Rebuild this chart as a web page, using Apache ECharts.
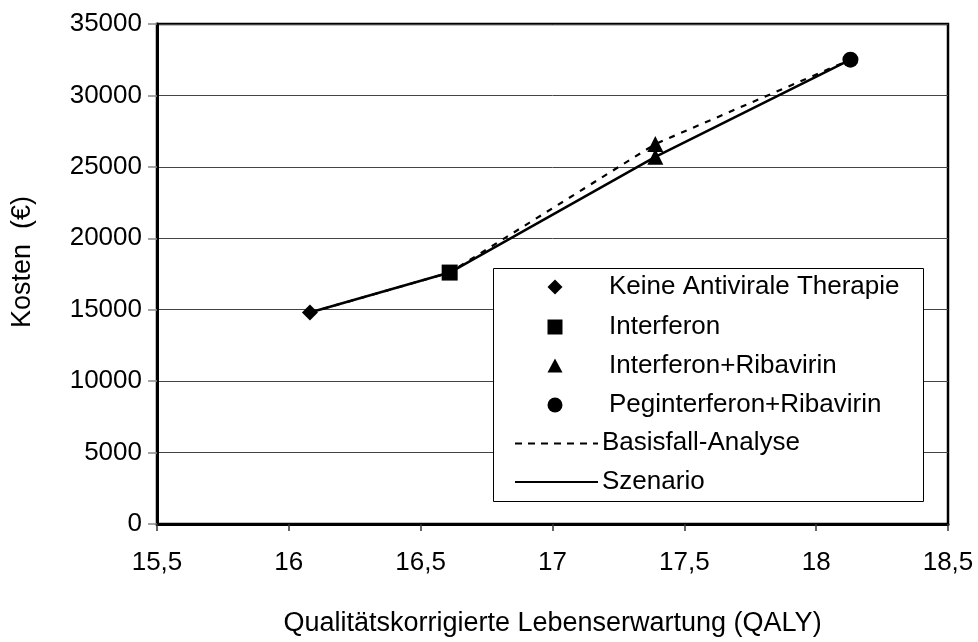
<!DOCTYPE html>
<html><head><meta charset="utf-8">
<script src="https://cdn.jsdelivr.net/npm/echarts@6/dist/echarts.min.js"></script>
<style>html,body{margin:0;padding:0;background:#fff}#c{width:978px;height:642px}</style>
</head><body><div id="c"></div>
<script>
// Data
const qaly = [16.08, 16.61, 17.39, 18.13];
const kostenBasis = [14800, 17600, 26600, 32500];
const kostenSzenario = [14800, 17600, 25700, 32500];
const therapien = ['Keine Antivirale Therapie', 'Interferon', 'Interferon+Ribavirin', 'Peginterferon+Ribavirin'];
const symbole = ['diamond', 'rect', 'triangle', 'circle'];
const lineNames = ['Basisfall-Analyse', 'Szenario'];
const xTicks = [15.5, 16, 16.5, 17, 17.5, 18, 18.5];
const yTicks = [0, 5000, 10000, 15000, 20000, 25000, 30000, 35000];

const FONT = '"Liberation Sans", Arial, sans-serif';
const FS = 26;
const chart = echarts.init(document.getElementById('c'), null, {renderer: 'canvas'});

const pairs = (ys) => qaly.map((x, i) => [x, ys[i]]);
const markerSeries = therapien.map((name, i) => {
  const pts = [[qaly[i], kostenBasis[i]]];
  if (kostenSzenario[i] !== kostenBasis[i]) pts.push([qaly[i], kostenSzenario[i]]);
  return {
    name, type: 'scatter', data: pts, symbol: symbole[i],
    symbolSize: 16,
    itemStyle: {color: '#000', opacity: 1}, z: 5, silent: true
  };
});

// legend graphic
const lgX = 493, lgY = 268, lgW = 430, lgH = 233;
const rowY = [287, 327, 366, 405, 443, 482];
const legendEls = [{type: 'rect', shape: {x: lgX + 0.5, y: lgY + 0.5, width: lgW, height: lgH},
  style: {fill: '#fff', stroke: '#000', lineWidth: 1}, z: 10}];
const mx = 555, h = 7.5;
legendEls.push({type: 'polygon', shape: {points: [[mx, rowY[0]-h], [mx+h, rowY[0]], [mx, rowY[0]+h], [mx-h, rowY[0]]]}, style: {fill: '#000'}, z: 11});
legendEls.push({type: 'rect', shape: {x: mx-h, y: rowY[1]-h, width: 2*h, height: 2*h}, style: {fill: '#000'}, z: 11});
legendEls.push({type: 'polygon', shape: {points: [[mx, rowY[2]-h], [mx+h, rowY[2]+h-1], [mx-h, rowY[2]+h-1]]}, style: {fill: '#000'}, z: 11});
legendEls.push({type: 'circle', shape: {cx: mx, cy: rowY[3], r: h}, style: {fill: '#000'}, z: 11});
therapien.forEach((t, i) => legendEls.push({type: 'text', x: 609, y: rowY[i], style: {text: t, font: FS + 'px ' + FONT, fill: '#000', verticalAlign: 'middle'}, z: 11}));
legendEls.push({type: 'line', shape: {x1: 515, y1: rowY[4]+0.5, x2: 598, y2: rowY[4]+0.5}, style: {stroke: '#000', lineWidth: 2, lineDash: [7, 6]}, z: 11});
legendEls.push({type: 'line', shape: {x1: 515, y1: rowY[5], x2: 598, y2: rowY[5]}, style: {stroke: '#000', lineWidth: 2}, z: 11});
lineNames.forEach((t, i) => legendEls.push({type: 'text', x: 602, y: rowY[4+i], style: {text: t, font: FS + 'px ' + FONT, fill: '#000', verticalAlign: 'middle'}, z: 11}));
// y-axis title
legendEls.push({type: 'text', x: 23, y: 262, rotation: Math.PI / 2,
  style: {text: 'Kosten  (€)', font: '27px ' + FONT, fill: '#000', align: 'center', verticalAlign: 'middle'}, z: 11});

chart.setOption({
  animation: false,
  backgroundColor: '#fff',
  grid: {left: 157, right: 30, top: 24, bottom: 114, show: true, borderColor: '#000', borderWidth: 2.5, containLabel: false},
  xAxis: {
    type: 'value', min: 15.5, max: 18.5, interval: 0.5,
    name: 'Qualitätskorrigierte Lebenserwartung (QALY)', nameLocation: 'middle', nameGap: 86,
    nameTextStyle: {fontFamily: FONT, fontSize: 27, color: '#000'},
    axisLine: {show: true, onZero: false, lineStyle: {color: '#000', width: 3}},
    axisTick: {show: true, inside: false, length: 7, lineStyle: {color: '#333', width: 1.5}},
    axisLabel: {fontFamily: FONT, fontSize: FS, color: '#000', margin: 26,
      formatter: v => String(v).replace('.', ','), showMinLabel: true, showMaxLabel: true},
    splitLine: {show: false}
  },
  yAxis: {
    type: 'value', min: 0, max: 35000, interval: 5000,
    axisLine: {show: true, lineStyle: {color: '#000', width: 3}},
    axisTick: {show: true, inside: false, length: 9, lineStyle: {color: '#888', width: 1.5}},
    axisLabel: {fontFamily: FONT, fontSize: FS, color: '#000', margin: 15, formatter: v => String(v)},
    splitLine: {show: true, lineStyle: {color: '#444', width: 1}}
  },
  series: [
    {name: lineNames[0], type: 'line', data: pairs(kostenBasis), showSymbol: false, symbol: 'none',
     lineStyle: {color: '#000', width: 2.2, type: [6, 7]}, z: 3, silent: true},
    {name: lineNames[1], type: 'line', data: pairs(kostenSzenario), showSymbol: false, symbol: 'none',
     lineStyle: {color: '#000', width: 2.5}, z: 4, silent: true},
    ...markerSeries
  ],
  graphic: legendEls
});
</script></body></html>
